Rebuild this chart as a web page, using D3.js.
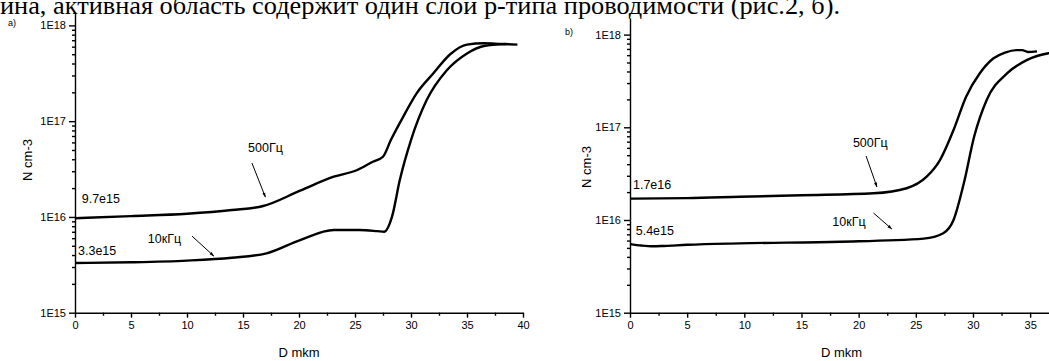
<!DOCTYPE html>
<html>
<head>
<meta charset="utf-8">
<script src="https://cdn.jsdelivr.net/npm/d3@7/dist/d3.min.js"></script>
<style>
  body { margin: 0; background: #fff; }
  svg { display: block; }
  .tick text { font-family: "Liberation Sans", Arial, sans-serif; }
</style>
</head>
<body>
<div id="chart"></div>
<script>
// panel a)
const leftHighD = [0, 5, 10, 14, 16.8, 20.1, 23.1, 25.2, 26.6, 27.5, 28.2, 29.3, 30.5, 32, 33.5, 35, 36.5, 38, 39.5];
const leftHighN = [9.7e15, 1.02e16, 1.08e16, 1.18e16, 1.3e16, 1.88e16, 2.63e16, 3.09e16, 3.77e16, 4.25e16, 6.35e16, 1.11e17, 1.95e17, 3.16e17, 5.0e17, 6.3e17, 6.5e17, 6.4e17, 6.3e17];
const leftLowD = [0, 5, 10, 14, 17.1, 20.1, 23.1, 25.4, 27.0, 27.6, 28.3, 29.0, 30.0, 31.4, 33.2, 35.0, 36.5, 38.5];
const leftLowN = [3.3e15, 3.36e15, 3.5e15, 3.75e15, 4.17e15, 5.74e15, 7.3e15, 7.3e15, 7.1e15, 7.0e15, 1.0e16, 2.43e16, 6.35e16, 1.66e17, 3.4e17, 5.1e17, 6.1e17, 6.4e17];

// panel b)
const rightHighD = [0, 5, 9.6, 15, 21.3, 24.2, 25.95, 27.1, 28.3, 29.4, 30.6, 31.8, 32.8, 33.8, 34.3, 34.8, 35.6];
const rightHighN = [1.7e16, 1.72e16, 1.78e16, 1.85e16, 1.94e16, 2.2e16, 2.93e16, 4.4e16, 9.35e16, 2.14e17, 3.83e17, 5.55e17, 6.4e17, 6.8e17, 6.8e17, 6.5e17, 6.6e17];
const rightLowD = [0, 1, 2, 3, 5, 9.6, 18.4, 25.7, 27.4, 28.3, 29.2, 30.1, 31.2, 33.0, 34.7, 36.6, 37];
const rightLowN = [5.5e15, 5.3e15, 5.2e15, 5.25e15, 5.4e15, 5.6e15, 5.83e15, 6.3e15, 7.2e15, 1.0e16, 2.49e16, 7.9e16, 1.97e17, 3.83e17, 5.3e17, 6.3e17, 6.4e17];

const yTicks = [1e15, 1e16, 1e17, 1e18];
const leftXTicks = [0, 5, 10, 15, 20, 25, 30, 35, 40];
const rightXTicks = [0, 5, 10, 15, 20, 25, 30, 35];

// labels: [text, D, N]
const leftNotes = [['9.7e15', 0.6, 1.54e16], ['3.3e15', 0.27, 4.5e15], ['500Гц', 15.45, 5.24e16], ['10кГц', 6.5, 6.0e15]];
const leftArrows = [[15.8, 3.65e16, 17.0, 1.61e16], [10.45, 6.3e15, 12.4, 3.9e15]];
const rightNotes = [['1.7e16', 0.26, 2.43e16], ['5.4e15', 0.5, 7.6e15], ['500Гц', 19.5, 6.9e16], ['10кГц', 17.7, 9.5e15]];
const rightArrows = [[20.65, 4.9e16, 21.6, 2.27e16], [21.3, 1.19e16, 22.9, 8.0e15]];

const W = 1049, H = 361;
const svg = d3.select('#chart').append('svg').attr('width', W).attr('height', H);
svg.append('rect').attr('width', W).attr('height', H).attr('fill', '#fff');

svg.append('defs').append('marker')
  .attr('id', 'arr').attr('viewBox', '0 -5 10 10')
  .attr('refX', 9).attr('refY', 0)
  .attr('markerWidth', 5).attr('markerHeight', 5)
  .attr('orient', 'auto')
  .append('path').attr('d', 'M0,-3L10,0L0,3').attr('fill', '#000');

// page text above the figure, cut by the top edge as in the scan
svg.append('text')
  .attr('x', 0).attr('y', 14)
  .attr('textLength', 840).attr('lengthAdjust', 'spacingAndGlyphs')
  .style('font-family', '"Liberation Serif", "Times New Roman", serif')
  .style('font-size', '25px')
  .text('ина, активная область содержит один слой р-типа проводимости (рис.2, б).');

function panel(cfg) {
  const x = d3.scaleLinear().domain(cfg.xDomain).range(cfg.xRange);
  const y = d3.scaleLog().domain(cfg.yDomain).range(cfg.yRange);
  const g = svg.append('g');
  const font = '"Liberation Sans", Arial, sans-serif';

  const minorY = [];
  [1e15, 1e16, 1e17].forEach(d => { for (let k = 2; k <= 9; k++) minorY.push(d * k); });
  const minorX = d3.range(cfg.xDomain[0] + 2.5, cfg.xDomain[1], 5);

  const base = y(1e15);
  g.append('g').attr('transform', `translate(0,${base})`)
    .call(d3.axisBottom(x).tickValues(minorX).tickSize(3).tickFormat('').tickSizeOuter(0))
    .call(a => a.select('.domain').remove());
  g.append('g').attr('transform', `translate(${cfg.xRange[0]},0)`)
    .call(d3.axisLeft(y).tickValues(minorY).tickSize(3).tickFormat('').tickSizeOuter(0))
    .call(a => a.select('.domain').remove());

  const xa = g.append('g').attr('transform', `translate(0,${base})`)
    .call(d3.axisBottom(x).tickValues(cfg.xTicks).tickSize(5).tickPadding(4).tickSizeOuter(0));
  xa.selectAll('text').style('font-size', '11px').attr('fill', '#000');
  const ya = g.append('g').attr('transform', `translate(${cfg.xRange[0]},0)`)
    .call(d3.axisLeft(y).tickValues(yTicks).tickSize(6).tickPadding(3).tickSizeOuter(0)
      .tickFormat(d => '1E' + Math.round(Math.log10(d))));
  ya.selectAll('text').style('font-size', '11px').attr('fill', '#000');
  g.selectAll('.domain, .tick line').attr('stroke', '#000').attr('stroke-width', 1.4);

  g.append('text')
    .attr('x', d3.mean(x.range())).attr('y', base + 44)
    .attr('text-anchor', 'middle')
    .style('font-family', font).style('font-size', '13px')
    .text('D mkm');
  g.append('text')
    .attr('transform', `translate(${cfg.yLabelX},${cfg.yLabelY}) rotate(-90)`)
    .attr('text-anchor', 'middle')
    .style('font-family', font).style('font-size', '13px')
    .text('N cm-3');
  g.append('text')
    .attr('x', cfg.tagX).attr('y', cfg.tagY)
    .style('font-family', font).style('font-size', '9px')
    .text(cfg.tag);

  const line = d3.line().x(d => x(d[0])).y(d => y(d[1])).curve(d3.curveMonotoneX);
  cfg.series.forEach(s => {
    g.append('path')
      .datum(d3.zip(s[0], s[1]))
      .attr('d', line)
      .attr('fill', 'none').attr('stroke', '#000')
      .attr('stroke-width', 2.4).attr('stroke-linejoin', 'round');
  });

  g.selectAll('.note').data(cfg.notes).join('text')
    .attr('x', d => x(d[1])).attr('y', d => y(d[2]))
    .attr('dy', '0.35em')
    .style('font-family', font).style('font-size', '12.5px')
    .text(d => d[0]);

  g.selectAll('.arrow').data(cfg.arrows).join('line')
    .attr('x1', d => x(d[0])).attr('y1', d => y(d[1]))
    .attr('x2', d => x(d[2])).attr('y2', d => y(d[3]))
    .attr('stroke', '#000').attr('stroke-width', 1)
    .attr('marker-end', 'url(#arr)');
}

panel({
  xDomain: [0, 40], xRange: [75, 523],
  yDomain: [1e15, 1.38e18], yRange: [312.7, 12],
  xTicks: leftXTicks,
  yLabelX: 32, yLabelY: 160,
  tag: 'a)', tagX: 8, tagY: 26,
  series: [[leftHighD, leftHighN], [leftLowD, leftLowN]],
  notes: leftNotes, arrows: leftArrows
});

panel({
  xDomain: [0, 37], xRange: [630, 1053],
  yDomain: [1e15, 1.51e18], yRange: [312.7, 18],
  xTicks: rightXTicks,
  yLabelX: 591, yLabelY: 167,
  tag: 'b)', tagX: 565, tagY: 35,
  series: [[rightHighD, rightHighN], [rightLowD, rightLowN]],
  notes: rightNotes, arrows: rightArrows
});
</script>
</body>
</html>
